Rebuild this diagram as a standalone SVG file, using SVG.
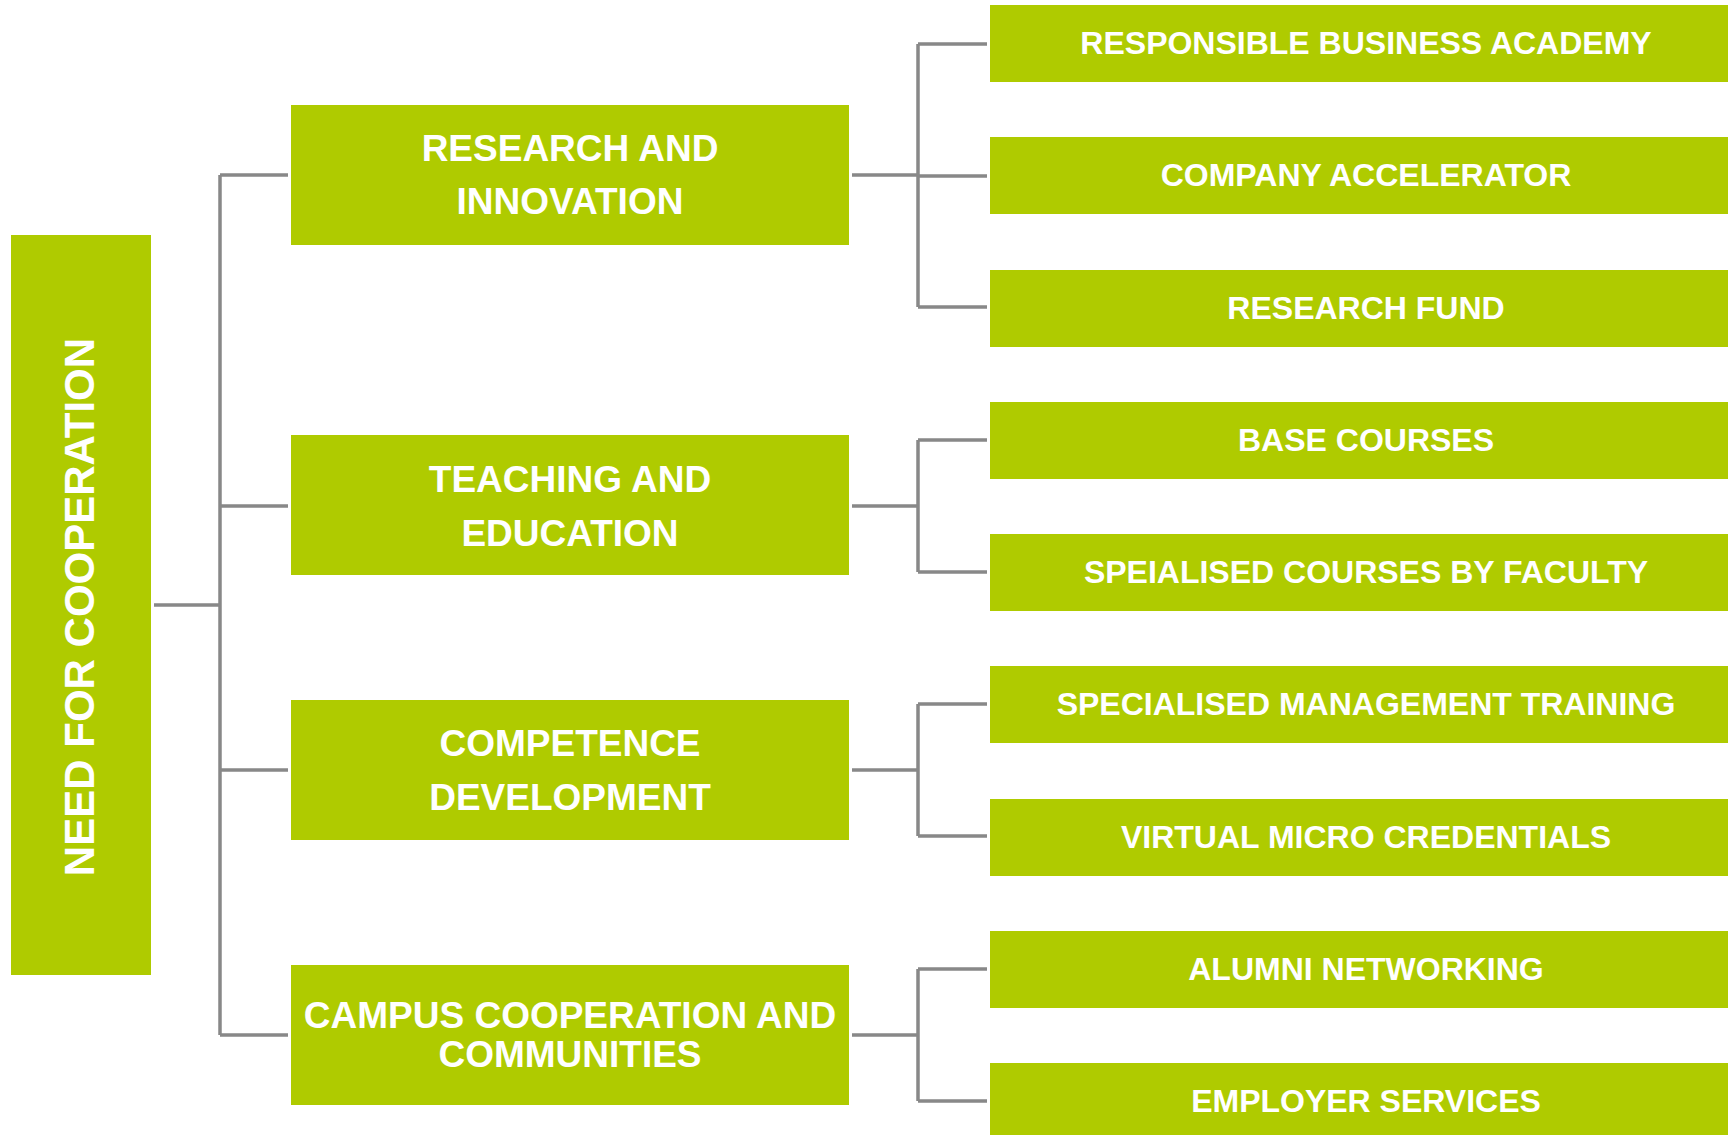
<svg xmlns="http://www.w3.org/2000/svg" width="1728" height="1135" viewBox="0 0 1728 1135">
<style>
.box{fill:#afcb00;}
.t1{font-family:"Liberation Sans",Arial,sans-serif;font-weight:bold;font-size:37px;fill:#ffffff;text-anchor:middle;}
.t2{font-family:"Liberation Sans",Arial,sans-serif;font-weight:bold;font-size:32px;fill:#ffffff;text-anchor:middle;}
.t0{font-family:"Liberation Sans",Arial,sans-serif;font-weight:bold;font-size:42px;fill:#ffffff;text-anchor:middle;}
.ln{fill:none;stroke:#888888;stroke-width:3.5;}
</style>
<rect width="1728" height="1135" fill="#ffffff"/>
<g id="connectors">
<path class="ln" d="M154 605H220M220 175V1035M220 175H288M220 506H288M220 770H288M220 1035H288"/>
<path class="ln" d="M852 175H918M918 44V307M918 44H987M918 176H987M918 307H987"/>
<path class="ln" d="M852 506H918M918 440V572M918 440H987M918 572H987"/>
<path class="ln" d="M852 770H918M918 704V836M918 704H987M918 836H987"/>
<path class="ln" d="M852 1035H918M918 969V1101M918 969H987M918 1101H987"/>
</g>
<g id="root">
<rect class="box" x="11" y="235" width="140" height="740"/>
<text class="t0" transform="translate(94,607) rotate(-90)">NEED FOR COOPERATION</text>
</g>
<g id="research">
<rect class="box" x="291" y="105" width="558" height="140"/>
<text class="t1" x="570" y="161">RESEARCH AND</text>
<text class="t1" x="570" y="214">INNOVATION</text>
</g>
<g id="teaching">
<rect class="box" x="291" y="435" width="558" height="140"/>
<text class="t1" x="570" y="492">TEACHING AND</text>
<text class="t1" x="570" y="546">EDUCATION</text>
</g>
<g id="competence">
<rect class="box" x="291" y="700" width="558" height="140"/>
<text class="t1" x="570" y="756">COMPETENCE</text>
<text class="t1" x="570" y="810">DEVELOPMENT</text>
</g>
<g id="campus">
<rect class="box" x="291" y="965" width="558" height="140"/>
<text class="t1" x="570" y="1028">CAMPUS COOPERATION AND</text>
<text class="t1" x="570" y="1067">COMMUNITIES</text>
</g>
<g id="rba"><rect class="box" x="990" y="5" width="752" height="77"/><text class="t2" x="1366" y="54">RESPONSIBLE BUSINESS ACADEMY</text></g>
<g id="accelerator"><rect class="box" x="990" y="137" width="752" height="77"/><text class="t2" x="1366" y="186">COMPANY ACCELERATOR</text></g>
<g id="fund"><rect class="box" x="990" y="270" width="752" height="77"/><text class="t2" x="1366" y="319">RESEARCH FUND</text></g>
<g id="base"><rect class="box" x="990" y="402" width="752" height="77"/><text class="t2" x="1366" y="451">BASE COURSES</text></g>
<g id="specialised"><rect class="box" x="990" y="534" width="752" height="77"/><text class="t2" x="1366" y="583">SPEIALISED COURSES BY FACULTY</text></g>
<g id="management"><rect class="box" x="990" y="666" width="752" height="77"/><text class="t2" x="1366" y="715">SPECIALISED MANAGEMENT TRAINING</text></g>
<g id="micro"><rect class="box" x="990" y="799" width="752" height="77"/><text class="t2" x="1366" y="848">VIRTUAL MICRO CREDENTIALS</text></g>
<g id="alumni"><rect class="box" x="990" y="931" width="752" height="77"/><text class="t2" x="1366" y="980">ALUMNI NETWORKING</text></g>
<g id="employer"><rect class="box" x="990" y="1063" width="752" height="77"/><text class="t2" x="1366" y="1112">EMPLOYER SERVICES</text></g>
</svg>
